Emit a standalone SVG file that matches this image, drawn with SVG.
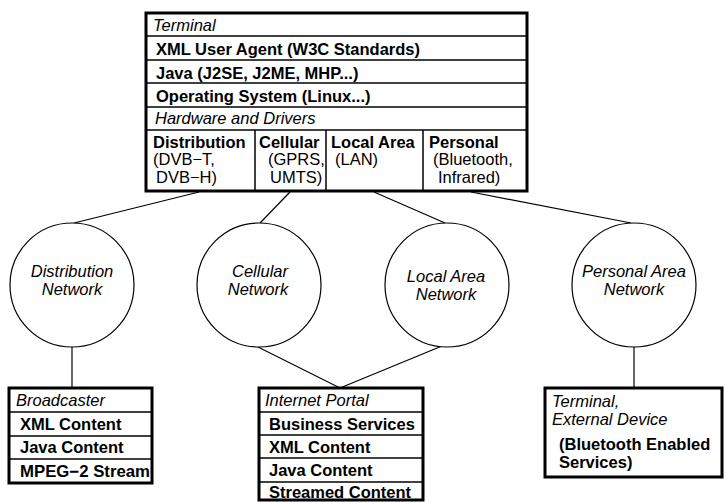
<svg xmlns="http://www.w3.org/2000/svg" width="725" height="502" viewBox="0 0 725 502">
<style>
text{font-family:"Liberation Sans",Arial,sans-serif;font-size:16.5px;fill:#000}
.b{font-weight:bold}
.i{font-style:italic}
.box{fill:#fff;stroke:#000;stroke-width:3}
.div{stroke:#000;stroke-width:1.5;fill:none}
.net{fill:#fff;stroke:#000;stroke-width:1.2}
.con{stroke:#000;stroke-width:1.2;fill:none}
.c{text-anchor:middle}
</style>
<rect width="725" height="502" fill="#fff"/>
<g id="connectors">
<line class="con" x1="199" y1="192" x2="74" y2="223"/>
<line class="con" x1="290" y1="192" x2="260" y2="223"/>
<line class="con" x1="374" y1="192" x2="445" y2="223"/>
<line class="con" x1="471" y1="192" x2="631" y2="223"/>
<line class="con" x1="72" y1="347" x2="72" y2="388"/>
<line class="con" x1="256" y1="346" x2="340" y2="388"/>
<line class="con" x1="442" y1="346" x2="340" y2="388"/>
<line class="con" x1="634" y1="347" x2="634" y2="388"/>
</g>
<g id="terminal">
<rect class="box" x="146" y="13" width="381" height="178"/>
<line class="div" x1="146" y1="36" x2="527" y2="36"/>
<line class="div" x1="146" y1="60" x2="527" y2="60"/>
<line class="div" x1="146" y1="83" x2="527" y2="83"/>
<line class="div" x1="146" y1="107" x2="527" y2="107"/>
<line class="div" x1="146" y1="130" x2="527" y2="130"/>
<line class="div" x1="255" y1="130" x2="255" y2="191"/>
<line class="div" x1="326" y1="130" x2="326" y2="191"/>
<line class="div" x1="423" y1="130" x2="423" y2="191"/>
<text class="i" x="153" y="31">Terminal</text>
<text class="b" x="156" y="55">XML User Agent (W3C Standards)</text>
<text class="b" x="156" y="79">Java (J2SE, J2ME, MHP...)</text>
<text class="b" x="156" y="102">Operating System (Linux...)</text>
<text class="i" x="155" y="124">Hardware and Drivers</text>
<text class="b" x="153" y="148">Distribution</text>
<text x="153" y="165">(DVB−T,</text>
<text x="156" y="183">DVB−H)</text>
<text class="b" x="259" y="148">Cellular</text>
<text x="268" y="165">(GPRS,</text>
<text x="270" y="183">UMTS)</text>
<text class="b" x="331" y="148">Local Area</text>
<text x="335" y="165">(LAN)</text>
<text class="b" x="429" y="148">Personal</text>
<text x="433" y="165">(Bluetooth,</text>
<text x="438" y="183">Infrared)</text>
</g>
<g id="distribution-network">
<circle class="net" cx="72" cy="285" r="62"/>
<text class="i c" x="72" y="277">Distribution</text>
<text class="i c" x="72" y="295">Network</text>
</g>
<g id="cellular-network">
<circle class="net" cx="259" cy="285" r="62"/>
<text class="i c" x="260" y="277">Cellular</text>
<text class="i c" x="258" y="295">Network</text>
</g>
<g id="local-area-network">
<circle class="net" cx="447" cy="285" r="62"/>
<text class="i c" x="446" y="282">Local Area</text>
<text class="i c" x="446" y="300">Network</text>
</g>
<g id="personal-area-network">
<circle class="net" cx="634" cy="285" r="62"/>
<text class="i c" x="634" y="277">Personal Area</text>
<text class="i c" x="634" y="295">Network</text>
</g>
<g id="broadcaster">
<rect class="box" x="9" y="388" width="143" height="95"/>
<line class="div" x1="9" y1="412" x2="152" y2="412"/>
<line class="div" x1="9" y1="436" x2="152" y2="436"/>
<line class="div" x1="9" y1="459" x2="152" y2="459"/>
<text class="i" x="16" y="406">Broadcaster</text>
<text class="b" x="20" y="430">XML Content</text>
<text class="b" x="20" y="453">Java Content</text>
<text class="b" x="20" y="477" textLength="130" lengthAdjust="spacingAndGlyphs">MPEG−2 Stream</text>
</g>
<g id="internet-portal">
<rect class="box" x="259" y="388" width="164" height="112"/>
<line class="div" x1="259" y1="412" x2="423" y2="412"/>
<line class="div" x1="259" y1="435" x2="423" y2="435"/>
<line class="div" x1="259" y1="458" x2="423" y2="458"/>
<line class="div" x1="259" y1="482" x2="423" y2="482"/>
<text class="i" x="265" y="406">Internet Portal</text>
<text class="b" x="269" y="430">Business Services</text>
<text class="b" x="269" y="453">XML Content</text>
<text class="b" x="269" y="476">Java Content</text>
<text class="b" x="269" y="498">Streamed Content</text>
</g>
<g id="external-device">
<rect class="box" x="545" y="388" width="177" height="89"/>
<text class="i" x="552" y="407">Terminal,</text>
<text class="i" x="552" y="425">External Device</text>
<text class="b" x="559" y="450">(Bluetooth Enabled</text>
<text class="b" x="559" y="468">Services)</text>
</g>
</svg>
